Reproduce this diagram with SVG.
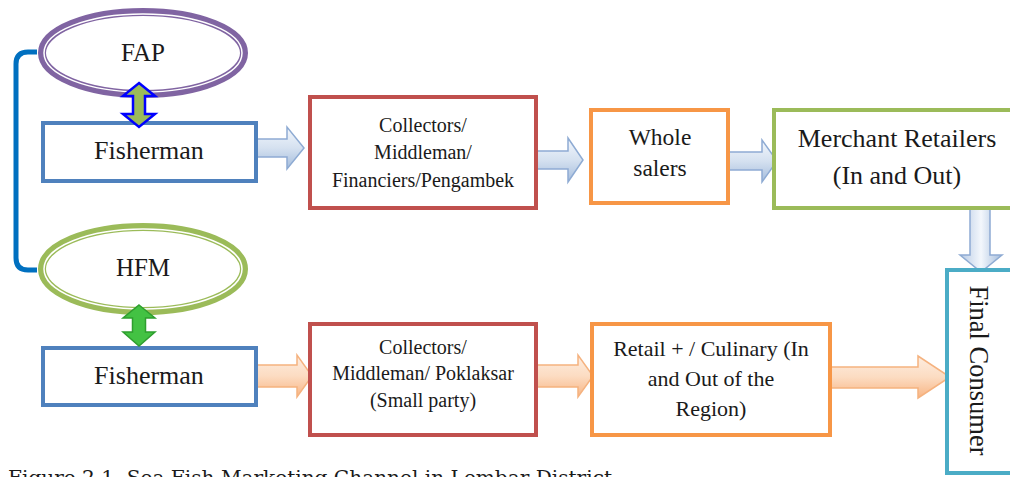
<svg xmlns="http://www.w3.org/2000/svg" width="1010" height="477" viewBox="0 0 1010 477">
<defs>
<style>
.t{font-family:"Liberation Serif","Times New Roman",serif;fill:#1a1a1a;text-anchor:middle}
.box{fill:#ffffff;stroke-width:4}
.ba{stroke:#8EABD3;stroke-width:1.5;fill:url(#gb)}
.oa{stroke:#F5B27F;stroke-width:1.5;fill:url(#go)}
</style>
<linearGradient id="gb" x1="0" y1="0" x2="0" y2="1">
<stop offset="0" stop-color="#F3F7FC"/>
<stop offset="0.5" stop-color="#D5E1F0"/>
<stop offset="1" stop-color="#A4BCDC"/>
</linearGradient>
<linearGradient id="gbd" x1="0" y1="0" x2="1" y2="0">
<stop offset="0" stop-color="#B7CAE4"/>
<stop offset="0.5" stop-color="#F3F7FC"/>
<stop offset="1" stop-color="#A4BCDC"/>
</linearGradient>
<linearGradient id="go" x1="0" y1="0" x2="0" y2="1">
<stop offset="0" stop-color="#FDEDE0"/>
<stop offset="0.5" stop-color="#FCDCC2"/>
<stop offset="1" stop-color="#F8B584"/>
</linearGradient>
</defs>
<rect width="1010" height="477" fill="#ffffff"/>

<g id="connectors">
<path d="M37,52 H28 Q16,52 16,64 V258 Q16,270 28,270 H37" fill="none" stroke="#0070C0" stroke-width="5"/>
<path class="ba" d="M257,139 H287 V127 L304,148 L287,169 V157 H257 Z"/>
<path class="ba" d="M537,151 H568 V138 L583,160 L568,182 V169 H537 Z"/>
<path class="ba" d="M728,152 H762 V140 L777,161 L762,182 V170 H728 Z"/>
<path d="M970,208 H990 V255 H1002 L981,272 L960,255 H970 Z" fill="url(#gbd)" stroke="#8EABD3" stroke-width="1.5"/>
<path class="oa" d="M255,365 H297 V355 L312,376 L297,397 V387 H255 Z"/>
<path class="oa" d="M535,365 H578 V355 L593,376 L578,397 V387 H535 Z"/>
<path class="oa" d="M830,367 H918 V356 L950,377 L918,398 V388 H830 Z"/>
</g>

<g id="fap">
<ellipse cx="143" cy="53" rx="101" ry="41" fill="#ffffff" stroke="#8064A2" stroke-width="8"/>
<ellipse cx="143" cy="53" rx="99" ry="39" fill="none" stroke="#ffffff" stroke-width="1.5"/>
<text class="t" x="143" y="61" font-size="25">FAP</text>
</g>

<g id="hfm">
<ellipse cx="143" cy="269" rx="101" ry="42" fill="#ffffff" stroke="#9BBB59" stroke-width="8"/>
<ellipse cx="143" cy="269" rx="99" ry="40" fill="none" stroke="#ffffff" stroke-width="1.5"/>
<text class="t" x="143" y="276" font-size="25">HFM</text>
</g>

<g id="fisherman1">
<rect class="box" x="43" y="123" width="213" height="58" stroke="#4F81BD"/>
<text class="t" x="149" y="159" font-size="26">Fisherman</text>
</g>

<g id="fisherman2">
<rect class="box" x="43" y="348" width="213" height="57" stroke="#4F81BD"/>
<text class="t" x="149" y="384" font-size="26">Fisherman</text>
</g>

<g id="link-fap">
<path d="M139,83 L155,96 H145 V114 H155 L139,127 L123,114 H133 V96 H123 Z" fill="#9BBB59" stroke="#0000FF" stroke-width="2.5" stroke-linejoin="miter"/>
</g>

<g id="link-hfm">
<path d="M139,305 L155,318 H145.5 V332 H155 L139,346 L123,332 H132.5 V318 H123 Z" fill="#43C243" stroke="#2E9E2E" stroke-width="1.5"/>
</g>

<g id="collectors1">
<rect class="box" x="310" y="97" width="226" height="111" stroke="#C0504D"/>
<text class="t" x="423" y="132" font-size="20">Collectors/</text>
<text class="t" x="423" y="159" font-size="20">Middleman/</text>
<text class="t" x="423" y="187" font-size="20">Financiers/Pengambek</text>
</g>

<g id="wholesalers">
<rect class="box" x="591" y="110" width="137" height="93" stroke="#F79646"/>
<text class="t" x="660" y="145" font-size="23.5">Whole</text>
<text class="t" x="660" y="176" font-size="23.5">salers</text>
</g>

<g id="merchant">
<rect class="box" x="774" y="110" width="250" height="98" stroke="#9BBB59"/>
<text class="t" x="897" y="147" font-size="26">Merchant Retailers</text>
<text class="t" x="897" y="184" font-size="26">(In and Out)</text>
</g>

<g id="final">
<rect class="box" x="947" y="270" width="80" height="203" stroke="#4BACC6"/>
<text class="t" x="0" y="0" font-size="26.5" transform="translate(970,370.5) rotate(90)">Final Consumer</text>
</g>

<g id="collectors2">
<rect class="box" x="310" y="324" width="226" height="111" stroke="#C0504D"/>
<text class="t" x="423" y="354" font-size="20">Collectors/</text>
<text class="t" x="423" y="380" font-size="20">Middleman/ Poklaksar</text>
<text class="t" x="423" y="407" font-size="20">(Small party)</text>
</g>

<g id="retail">
<rect class="box" x="592" y="324" width="238" height="111" stroke="#F79646"/>
<text class="t" x="711" y="356" font-size="22">Retail + / Culinary (In</text>
<text class="t" x="711" y="386" font-size="22">and Out of the</text>
<text class="t" x="711" y="416" font-size="22">Region)</text>
</g>

<text x="8" y="484" font-family="DejaVu Serif, serif" font-size="18" fill="#1a1a1a" textLength="604" lengthAdjust="spacingAndGlyphs">Figure 2.1. Sea Fish Marketing Channel in Lembar District</text>
</svg>
